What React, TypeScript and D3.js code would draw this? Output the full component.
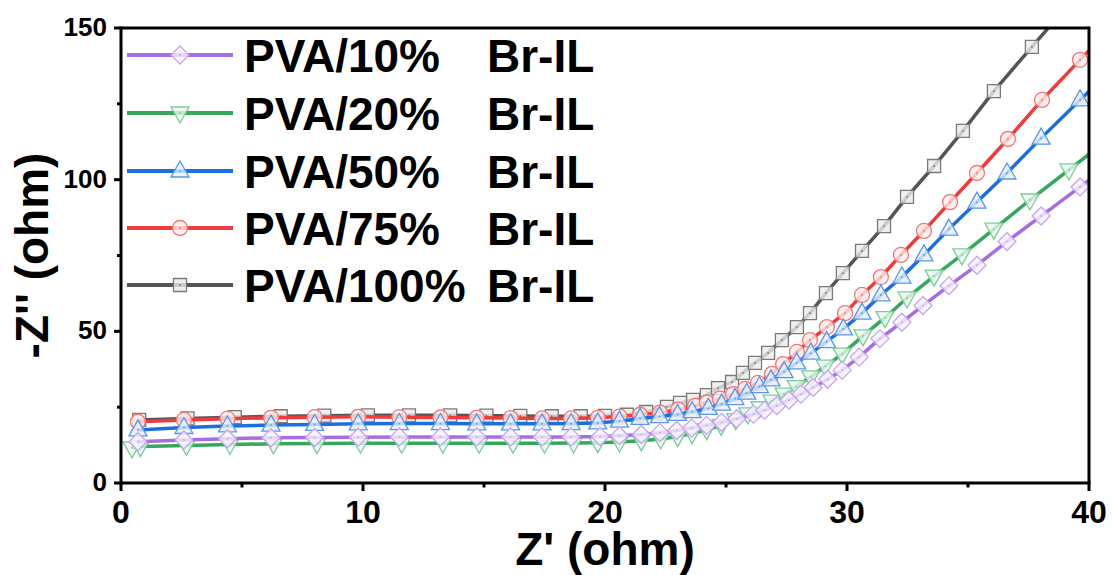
import React from 'react';
import * as d3 from 'd3';

const seriesNames = ['PVA/10%', 'PVA/20%', 'PVA/50%', 'PVA/75%', 'PVA/100%'];
const seriesSuffix = 'Br-IL';
const lineColors = ['#a66ee4', '#35a85c', '#1c6fe0', '#ef3b3b', '#555555'];
const markerColors = ['#c6a4f2', '#7ccb99', '#5a96ef', '#f27878', '#7a7a7a'];
const markerShapes = ['diamond', 'triangleDown', 'triangleUp', 'circle', 'square'];

const xTicks = [0, 10, 20, 30, 40];
const yTicks = [0, 50, 100, 150];
const xMinor = [5, 15, 25, 35];
const yMinor = [25, 75, 125];

const x10 = [0.7, 2.6, 4.4, 6.2, 8.0, 9.8, 11.5, 13.2, 14.7, 16.1, 17.4, 18.6, 19.8, 20.6, 21.5, 22.27, 22.96, 23.58, 24.2, 24.82, 25.44, 26.13, 26.6, 27.1, 27.6, 28.1, 28.6, 29.2, 29.8, 30.5, 31.36, 32.27, 33.14, 34.21, 35.37, 36.61, 38.02, 39.63, 41.3];
const y10 = [13.6, 14.2, 14.6, 14.9, 15.0, 15.1, 15.2, 15.2, 15.2, 15.2, 15.2, 15.2, 15.3, 15.6, 16.0, 16.6, 17.3, 18.1, 19.0, 20.0, 21.2, 22.7, 24.0, 25.5, 27.3, 29.3, 31.5, 34.2, 37.2, 41.5, 47.6, 53.0, 58.5, 65.0, 71.8, 79.6, 88.0, 97.6, 107.5];

const x20 = [0.45, 0.8, 2.7, 4.5, 6.3, 8.1, 9.9, 11.6, 13.3, 14.8, 16.2, 17.5, 18.7, 19.7, 20.6, 21.5, 22.3, 23.0, 23.6, 24.2, 24.8, 25.4, 25.9, 26.4, 26.9, 27.4, 27.9, 28.5, 29.1, 29.8, 30.66, 31.57, 32.48, 33.6, 34.75, 36.07, 37.56, 39.17, 40.9];
const y20 = [11.6, 12.0, 12.4, 12.7, 12.9, 13.0, 13.1, 13.1, 13.1, 13.1, 13.1, 13.1, 13.2, 13.3, 13.5, 13.9, 14.5, 15.3, 16.3, 17.5, 19.0, 20.9, 22.8, 24.8, 27.0, 29.3, 31.8, 35.0, 38.5, 42.5, 48.5, 54.5, 61.0, 68.2, 75.2, 83.7, 93.3, 103.2, 114.0];

const x50 = [0.7, 2.6, 4.4, 6.2, 8.0, 9.8, 11.5, 13.2, 14.7, 16.1, 17.4, 18.6, 19.7, 20.6, 21.45, 22.25, 23.0, 23.6, 24.27, 24.82, 25.37, 25.86, 26.38, 26.86, 27.4, 27.92, 28.51, 29.16, 29.85, 30.62, 31.40, 32.27, 33.18, 34.21, 35.37, 36.61, 38.02, 39.63, 41.3];
const y50 = [17.5, 18.3, 18.8, 19.1, 19.3, 19.5, 19.6, 19.6, 19.5, 19.5, 19.5, 19.6, 19.8, 20.4, 21.3, 21.9, 22.6, 23.5, 24.6, 26.0, 27.8, 29.6, 31.8, 34.0, 36.7, 39.6, 42.8, 46.6, 50.8, 56.0, 62.0, 67.9, 75.2, 83.7, 92.6, 102.2, 113.7, 126.3, 139.0];

const x75 = [0.7, 2.6, 4.4, 6.2, 8.0, 9.8, 11.5, 13.2, 14.7, 16.1, 17.4, 18.6, 19.7, 20.6, 21.45, 22.27, 23.02, 23.72, 24.21, 24.75, 25.29, 25.79, 26.32, 26.9, 27.36, 27.93, 28.47, 29.17, 29.92, 30.62, 31.40, 32.23, 33.18, 34.26, 35.37, 36.65, 38.06, 39.63, 41.3];
const y75 = [20.2, 20.8, 21.2, 21.5, 21.7, 21.8, 21.7, 21.6, 21.5, 21.4, 21.3, 21.3, 21.5, 21.9, 22.5, 23.2, 24.2, 25.4, 26.5, 27.8, 29.3, 31.0, 33.0, 36.0, 39.2, 43.2, 47.1, 51.4, 56.0, 62.0, 67.9, 75.2, 83.1, 92.6, 102.2, 113.4, 126.3, 139.5, 153.5];

const x100 = [0.75, 2.75, 4.7, 6.6, 8.4, 10.2, 11.9, 13.6, 15.1, 16.5, 17.8, 19.0, 20.0, 20.9, 21.7, 22.56, 23.1, 23.64, 24.21, 24.67, 25.25, 25.7, 26.2, 26.74, 27.31, 27.93, 28.47, 29.13, 29.83, 30.62, 31.53, 32.48, 33.60, 34.79, 36.07, 37.64, 39.3];
const y100 = [20.8, 21.3, 21.7, 22.0, 22.2, 22.3, 22.3, 22.3, 22.2, 22.1, 22.0, 22.0, 22.1, 22.5, 23.4, 25.1, 26.4, 27.4, 29.0, 31.3, 33.3, 36.3, 39.6, 42.9, 47.1, 51.4, 56.0, 62.6, 69.2, 76.5, 84.7, 94.3, 104.5, 116.1, 129.2, 143.8, 159.0];

const seriesX = [x10, x20, x50, x75, x100];
const seriesY = [y10, y20, y50, y75, y100];

const W = 1112;
const H = 575;
const L = 121, R = 1089, T = 28, B = 483;
const FONT = "'Liberation Sans', Arial, Helvetica, sans-serif";

function markerPath(shape: string): string {
  switch (shape) {
    case 'diamond':
      return 'M0,-9L9,0L0,9L-9,0Z';
    case 'triangleUp':
      return 'M0,-10L9,6L-9,6Z';
    case 'triangleDown':
      return 'M0,10L9,-6L-9,-6Z';
    case 'square':
      return 'M-6.5,-6.5L6.5,-6.5L6.5,6.5L-6.5,6.5Z';
    default:
      return d3.path().toString();
  }
}

function Marker({ shape, color, x, y }: { shape: string; color: string; x: number; y: number }) {
  const fill = d3.interpolateRgb(color, '#ffffff')(0.85);
  return (
    <g transform={`translate(${x},${y})`}>
      {shape === 'circle' ? (
        <circle r={7.5} fill={fill} fillOpacity={0.8} stroke={color} strokeWidth={1.3} />
      ) : (
        <path d={markerPath(shape)} fill={fill} fillOpacity={0.8} stroke={color} strokeWidth={1.3} />
      )}
      <circle r={0.9} fill={color} />
    </g>
  );
}

export default function App() {
  const xs = d3.scaleLinear().domain([0, 40]).range([L, R]);
  const ys = d3.scaleLinear().domain([0, 150]).range([B, T]);
  const line = d3.line<[number, number]>().x(d => xs(d[0])).y(d => ys(d[1]));

  const order = [4, 3, 2, 1, 0];
  const legendRows = [55, 113, 171, 228, 285];

  return (
    <svg width={W} height={H} style={{ position: 'absolute', left: 0, top: 0, background: '#fff' }}
      fontFamily={FONT}>
      <defs>
        <clipPath id="plotclip">
          <rect x={L} y={T} width={R - L} height={B - T} />
        </clipPath>
      </defs>
      <rect x={0} y={0} width={W} height={H} fill="#fff" />

      <g clipPath="url(#plotclip)">
        {order.map(i => {
          const pts = seriesX[i].map((v, k) => [v, seriesY[i][k]] as [number, number]);
          return (
            <g key={i}>
              <path d={line(pts) || ''} fill="none" stroke={lineColors[i]} strokeWidth={3.5} strokeLinejoin="round" />
              {pts.map((p, k) => (
                <Marker key={k} shape={markerShapes[i]} color={markerColors[i]} x={xs(p[0])} y={ys(p[1])} />
              ))}
            </g>
          );
        })}
      </g>

      {/* frame */}
      <line x1={L} y1={T} x2={R} y2={T} stroke="#000" strokeWidth={3} />
      <line x1={R} y1={T - 1.5} x2={R} y2={B} stroke="#000" strokeWidth={3} />
      <line x1={L} y1={T - 1.5} x2={L} y2={B + 1.5} stroke="#000" strokeWidth={3} />
      <line x1={L - 1.5} y1={B} x2={R + 1.5} y2={B} stroke="#000" strokeWidth={3} />

      {/* x ticks */}
      {xTicks.map(t => (
        <g key={'xt' + t}>
          <line x1={xs(t)} x2={xs(t)} y1={B} y2={B + 8} stroke="#000" strokeWidth={3} />
          <text x={xs(t)} y={523} textAnchor="middle" fontSize={32} fontWeight="bold">{t}</text>
        </g>
      ))}
      {xMinor.map(t => (
        <line key={'xm' + t} x1={xs(t)} x2={xs(t)} y1={B} y2={B + 4.5} stroke="#000" strokeWidth={3} />
      ))}

      {/* y ticks */}
      {yTicks.map(t => (
        <g key={'yt' + t}>
          <line x1={L - 7} x2={L} y1={ys(t)} y2={ys(t)} stroke="#000" strokeWidth={3} />
          <text x={107} y={ys(t) + 8} textAnchor="end" fontSize={26} fontWeight="bold">{t}</text>
        </g>
      ))}
      {yMinor.map(t => (
        <line key={'ym' + t} x1={L - 4} x2={L} y1={ys(t)} y2={ys(t)} stroke="#000" strokeWidth={3} />
      ))}

      {/* axis titles */}
      <text x={(L + R) / 2} y={565} textAnchor="middle" fontSize={46} fontWeight="bold">Z' (ohm)</text>
      <text transform={`translate(48,${(T + B) / 2}) rotate(-90)`} textAnchor="middle" fontSize={46} fontWeight="bold">-Z'' (ohm)</text>

      {/* legend */}
      {seriesNames.map((name, i) => (
        <g key={'lg' + i}>
          <line x1={127} x2={233} y1={legendRows[i]} y2={legendRows[i]} stroke={lineColors[i]} strokeWidth={4} />
          <Marker shape={markerShapes[i]} color={markerColors[i]} x={180} y={legendRows[i]} />
          <text x={244} y={legendRows[i] + 16.5} fontSize={46} fontWeight="bold">{name}</text>
          <text x={487} y={legendRows[i] + 16.5} fontSize={46} fontWeight="bold">{seriesSuffix}</text>
        </g>
      ))}
    </svg>
  );
}
